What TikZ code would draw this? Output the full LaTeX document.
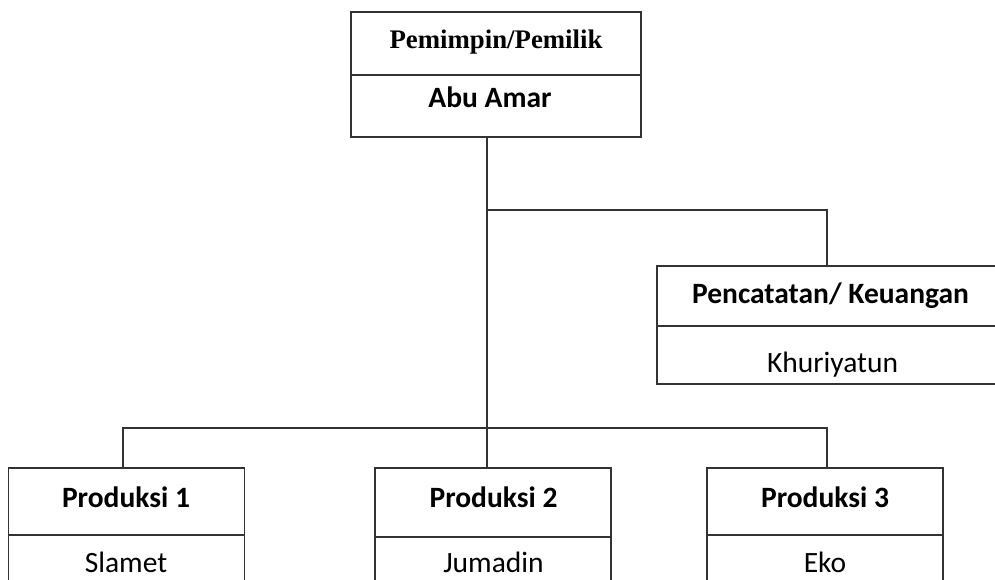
\documentclass[tikz,border=0pt]{standalone}
\usepackage{fontspec}
\setmainfont{Carlito}
\newfontfamily\timesfont{Liberation Serif}
\usetikzlibrary{calc}

\tikzset{
  cell/.style={draw=black!80, line width=1.1pt, inner sep=0pt, minimum width=236pt},
  head/.style={anchor=base, font=\bfseries\fontsize{29.5}{31}\selectfont},
  who/.style={anchor=base, font=\fontsize{29.5}{31}\selectfont},
  link/.style={draw=black!80, line width=1.1pt}
}

\begin{document}
\begin{tikzpicture}[x=1pt, y=-1pt]
    \clip (0,0) rectangle (995,579);
    \fill[white] (0,0) rectangle (995,579);

    % boxes
    \node[cell, minimum width=290pt, minimum height=63pt] (ownT) at (496,43.5) {};
    \node[cell, minimum width=290pt, minimum height=62pt] (ownB) at (496,106) {};
    \node[cell, minimum width=348pt, minimum height=60pt] (finT) at (831,296) {};
    \node[cell, minimum width=348pt, minimum height=58pt] (finB) at (831,355) {};
    \node[cell, minimum height=67pt] (p1T) at (126.5,501.5) {};
    \node[cell, minimum height=65pt] (p1B) at (126.5,567.5) {};
    \node[cell, minimum height=69pt] (p2T) at (493,502.5) {};
    \node[cell, minimum height=63pt] (p2B) at (493,568.5) {};
    \node[cell, minimum height=67pt] (p3T) at (825,501.5) {};
    \node[cell, minimum height=65pt] (p3B) at (825,567.5) {};

    % texts
    \node[head, font=\timesfont\bfseries\fontsize{26.8}{28}\selectfont] (ownTxt) at (496,48) {Pemimpin/Pemilik};
    \node[head] (ownName) at (490,107) {Abu Amar};
    \node[head] (finTxt) at (830.5,303) {Pencatatan/ Keuangan};
    \node[who] (finName) at (832.5,372) {Khuriyatun};
    \node[head] (p1Txt) at (126,507) {Produksi 1};
    \node[who] (p1Name) at (126,572) {Slamet};
    \node[head] (p2Txt) at (493.5,507) {Produksi 2};
    \node[who] (p2Name) at (493.5,572) {Jumadin};
    \node[head] (p3Txt) at (825,507) {Produksi 3};
    \node[who] (p3Name) at (825,572) {Eko};

    % connectors
    \coordinate (jn1) at (487,210);
    \coordinate (jn2) at (827,210);
    \coordinate (b1) at (123,428);
    \coordinate (b2) at (487,428);
    \coordinate (b3) at (827,428);

    \draw[link] (ownB.south -| b2) -- (b2);
    \draw[link] (jn1) -- (jn2) -- (jn2 |- finT.north);
    \draw[link] (b1 |- p1T.north) -- (b1) -- (b3) -- (b3 |- p3T.north);
    \draw[link] (b2) -- (b2 |- p2T.north);
\end{tikzpicture}
\end{document}
